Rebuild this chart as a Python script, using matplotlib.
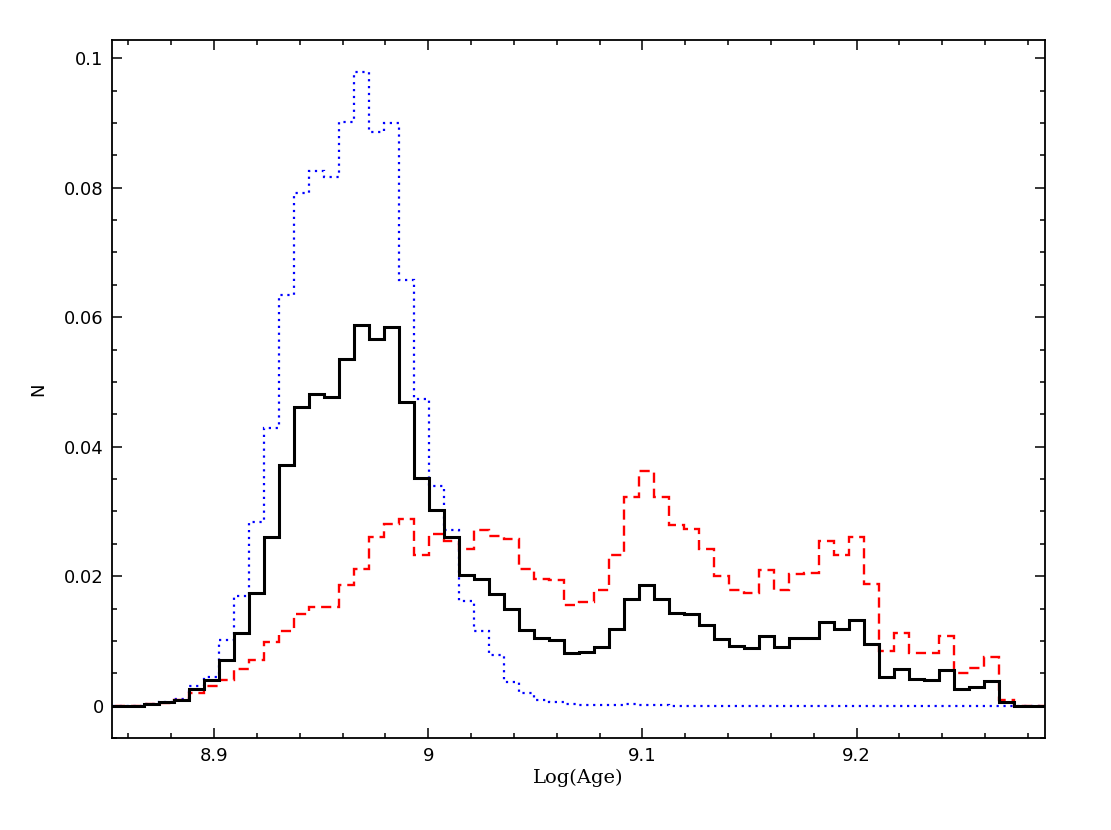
import numpy as np
import matplotlib
matplotlib.use("Agg")
import matplotlib.pyplot as plt
from matplotlib.ticker import MultipleLocator

# histogram bins: width ~0.007 in Log(Age), first non-empty bin at ~8.8674
bin_start = 8.8464
bin_width = 0.007

# three leading empty bins, 58 read bins, three trailing empty bins
solid_black = [0, 0, 0,
    0.0003, 0.0005, 0.0009, 0.0026, 0.0039, 0.0070, 0.0112, 0.0174, 0.0261, 0.0371,
    0.0461, 0.0482, 0.0477, 0.0536, 0.0588, 0.0567, 0.0585, 0.0469, 0.0351, 0.0302,
    0.0261, 0.0202, 0.0196, 0.0172, 0.0150, 0.0117, 0.0104, 0.0102, 0.0081, 0.0083,
    0.0091, 0.0119, 0.0164, 0.0186, 0.0164, 0.0143, 0.0141, 0.0124, 0.0103, 0.0092,
    0.0089, 0.0107, 0.0091, 0.0104, 0.0105, 0.0129, 0.0119, 0.0133, 0.0095, 0.0044,
    0.0057, 0.0041, 0.0040, 0.0055, 0.0026, 0.0029, 0.0038, 0.0006,
    0, 0, 0]

dashed_red = [0, 0, 0,
    0.0002, 0.0004, 0.0008, 0.0020, 0.0031, 0.0039, 0.0057, 0.0070, 0.0099, 0.0116,
    0.0142, 0.0153, 0.0153, 0.0186, 0.0211, 0.0260, 0.0280, 0.0289, 0.0232, 0.0265,
    0.0254, 0.0242, 0.0272, 0.0262, 0.0258, 0.0211, 0.0196, 0.0194, 0.0156, 0.0160,
    0.0179, 0.0232, 0.0322, 0.0362, 0.0323, 0.0279, 0.0273, 0.0242, 0.0201, 0.0178,
    0.0174, 0.0209, 0.0178, 0.0204, 0.0205, 0.0254, 0.0233, 0.0261, 0.0188, 0.0085,
    0.0112, 0.0082, 0.0081, 0.0107, 0.0051, 0.0058, 0.0075, 0.0009,
    0, 0, 0]

dotted_blue = [0, 0, 0,
    0.0003, 0.0005, 0.0010, 0.0031, 0.0045, 0.0102, 0.0170, 0.0284, 0.0429, 0.0634,
    0.0791, 0.0825, 0.0817, 0.0902, 0.0978, 0.0886, 0.0900, 0.0657, 0.0474, 0.0339,
    0.0271, 0.0161, 0.0116, 0.0078, 0.0037, 0.0019, 0.0008, 0.0005, 0.0002, 0.0001,
    0.0001, 0.0001, 0.0002, 0.0001, 0.0001, 0, 0, 0, 0, 0,
    0, 0, 0, 0, 0, 0, 0, 0, 0, 0,
    0, 0, 0, 0, 0, 0, 0, 0,
    0, 0, 0]

edges = bin_start + bin_width * np.arange(len(solid_black) + 1)

fig = plt.figure(figsize=(11.11, 8.30), dpi=100)
ax = fig.add_axes([0.1008, 0.1108, 0.8398, 0.8410])

ax.stairs(dotted_blue, edges, color="#0000ff", lw=1.6, linestyle=(0, (1, 2.1)), baseline=None)
ax.stairs(dashed_red, edges, color="#ff0000", lw=1.7, linestyle=(0, (4.3, 2.5)), baseline=None)
ax.stairs(solid_black, edges, color="black", lw=2.2, baseline=None)

ax.set_xlim(8.8523, 9.288)
ax.set_ylim(-0.0050, 0.1028)

ax.xaxis.set_major_locator(MultipleLocator(0.1))
ax.xaxis.set_minor_locator(MultipleLocator(0.02))
ax.yaxis.set_major_locator(MultipleLocator(0.02))
ax.yaxis.set_minor_locator(MultipleLocator(0.005))
ax.set_xticks([8.9, 9.0, 9.1, 9.2], ["8.9", "9", "9.1", "9.2"])
ax.set_yticks([0, 0.02, 0.04, 0.06, 0.08, 0.1], ["0", "0.02", "0.04", "0.06", "0.08", "0.1"])

ax.tick_params(which="both", direction="in", top=True, right=True, width=1.1)
ax.tick_params(which="major", length=7)
ax.tick_params(which="minor", length=3.5)
ax.tick_params(axis="x", labelsize=13, pad=6.5)
ax.tick_params(axis="y", labelsize=13, pad=6)
for sp in ax.spines.values():
    sp.set_linewidth(1.3)

ax.set_xlabel("Log(Age)", family="DejaVu Serif", fontsize=14, labelpad=3)
ax.set_ylabel("N", fontsize=13, labelpad=12)

fig.savefig("out.png", dpi=100)
